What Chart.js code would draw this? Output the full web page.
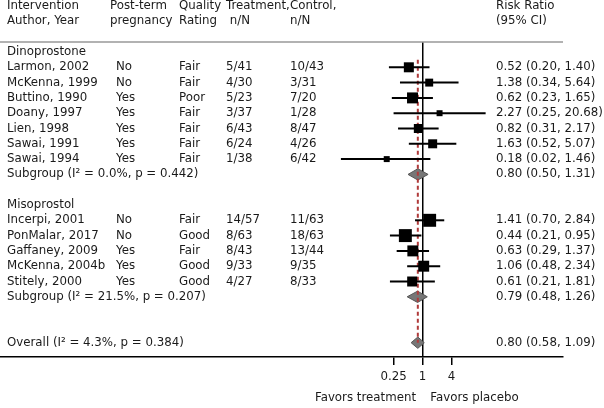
<!DOCTYPE html>
<html lang="en">
<head>
    <meta charset="UTF-8">
    <title>Forest Plot</title>
    <style>
        body {
            margin: 0;
            padding: 0;
            background: #fff;
        }
        #forest-chart {
            display: block;
        }
    </style>
</head>
<body>
    <canvas id="forest-chart" width="604" height="408"></canvas>

    <script src="https://cdn.jsdelivr.net/npm/chart.js"></script>
    <script>
        const groups = ['Dinoprostone', 'Misoprostol'];
        const studyNames = ['Larmon, 2002', 'McKenna, 1999', 'Buttino, 1990', 'Doany, 1997', 'Lien, 1998', 'Sawai, 1991', 'Sawai, 1994',
            'Incerpi, 2001', 'PonMalar, 2017', 'Gaffaney, 2009', 'McKenna, 2004b', 'Stitely, 2000'];
        const studyGroup = [0, 0, 0, 0, 0, 0, 0, 1, 1, 1, 1, 1];
        const postTerm = ['No', 'No', 'Yes', 'Yes', 'Yes', 'Yes', 'Yes', 'No', 'No', 'Yes', 'Yes', 'Yes'];
        const quality = ['Fair', 'Fair', 'Poor', 'Fair', 'Fair', 'Fair', 'Fair', 'Fair', 'Good', 'Fair', 'Good', 'Good'];
        const treatment = ['5/41', '4/30', '5/23', '3/37', '6/43', '6/24', '1/38', '14/57', '8/63', '8/43', '9/33', '4/27'];
        const control = ['10/43', '3/31', '7/20', '1/28', '8/47', '4/26', '6/42', '11/63', '18/63', '13/44', '9/35', '8/33'];
        const riskRatio = [0.52, 1.38, 0.62, 2.27, 0.82, 1.63, 0.18, 1.41, 0.44, 0.63, 1.06, 0.61];
        const ciLow = [0.20, 0.34, 0.23, 0.25, 0.31, 0.52, 0.02, 0.70, 0.21, 0.29, 0.48, 0.21];
        const ciHigh = [1.40, 5.64, 1.65, 20.68, 2.17, 5.07, 1.46, 2.84, 0.95, 1.37, 2.34, 1.81];
        // approximate study weights (%), read from the square sizes
        const weights = [8.4, 5.3, 10.1, 3.0, 6.8, 6.8, 3.0, 14.1, 14.1, 10.1, 10.1, 8.4];

        const subgroupLabels = ['Subgroup (I\u00B2 = 0.0%, p = 0.442)', 'Subgroup (I\u00B2 = 21.5%, p = 0.207)'];
        const subgroupRR = [0.80, 0.79];
        const subgroupLow = [0.50, 0.48];
        const subgroupHigh = [1.31, 1.26];

        const overallLabel = 'Overall (I\u00B2 = 4.3%, p = 0.384)';
        const overallRR = 0.80;
        const overallLow = 0.58;
        const overallHigh = 1.09;

        const tickValues = [0.25, 1, 4];

        const fmt = v => v.toFixed(2);
        const rrText = (e, l, h) => `${fmt(e)} (${fmt(l)}, ${fmt(h)})`;

        // lay out the rows: group title, studies, subgroup, blank ...
        const textRows = [];
        const studyRow = [];
        const subgroupRow = [];
        let row = 0;
        groups.forEach((g, gi) => {
            textRows.push({ row: row, cols: [g] });
            row++;
            studyNames.forEach((name, i) => {
                if (studyGroup[i] !== gi) return;
                studyRow[i] = row;
                textRows.push({ row: row, cols: [name, postTerm[i], quality[i], treatment[i], control[i], rrText(riskRatio[i], ciLow[i], ciHigh[i])] });
                row++;
            });
            subgroupRow[gi] = row;
            textRows.push({ row: row, cols: [subgroupLabels[gi], '', '', '', '', rrText(subgroupRR[gi], subgroupLow[gi], subgroupHigh[gi])] });
            row += 2;
        });
        row++;
        const overallRow = row;
        textRows.push({ row: overallRow, cols: [overallLabel, '', '', '', '', rrText(overallRR, overallLow, overallHigh)] });

        const headerRows = [
            { row: -3, cols: ['Intervention', 'Post-term', 'Quality', 'Treatment,', 'Control,', 'Risk Ratio'] },
            { row: -2, cols: ['Author, Year', 'pregnancy', 'Rating', ' n/N', 'n/N', '(95% CI)'] }
        ];
        const headerX = [7, 110, 179, 226, 290, 496];
        const colX = [7, 116, 179, 226, 290, 496];

        const FONT_FAMILY = '"DejaVu Sans", Verdana, sans-serif';
        const FONT_SIZE = 11.8;
        const TEXT = '#1a1a1a';

        function diamond(e, l, h, r) {
            const d = 0.37;
            return [{ x: l, y: r }, { x: e, y: r - d }, { x: h, y: r }, { x: e, y: r + d }, { x: l, y: r }];
        }

        const datasets = [];

        // confidence interval whiskers
        studyNames.forEach((name, i) => {
            datasets.push({
                type: 'line',
                data: [{ x: ciLow[i], y: studyRow[i] }, { x: ciHigh[i], y: studyRow[i] }],
                borderColor: '#000',
                borderWidth: 2,
                pointRadius: 0,
                fill: false
            });
        });

        // study squares, side proportional to sqrt(weight)
        datasets.push({
            type: 'scatter',
            data: studyNames.map((n, i) => ({ x: riskRatio[i], y: studyRow[i] })),
            pointStyle: 'rect',
            pointRadius: weights.map(w => 3.45 * Math.sqrt(w) / Math.SQRT2),
            backgroundColor: '#000',
            borderWidth: 0
        });

        // pooled estimate reference line
        datasets.push({
            type: 'line',
            data: [{ x: overallRR, y: 0.5 }, { x: overallRR, y: overallRow }],
            borderColor: '#b03a3a',
            borderWidth: 2,
            borderDash: [4, 3],
            pointRadius: 0,
            fill: false
        });

        // subgroup and overall diamonds
        const diamonds = subgroupRR.map((e, gi) => diamond(e, subgroupLow[gi], subgroupHigh[gi], subgroupRow[gi]));
        diamonds.push(diamond(overallRR, overallLow, overallHigh, overallRow));
        diamonds.forEach(pts => {
            datasets.push({
                type: 'line',
                data: pts,
                borderColor: '#555',
                borderWidth: 1,
                backgroundColor: '#777',
                pointRadius: 0,
                fill: 'shape'
            });
        });

        const textPlugin = {
            id: 'forestText',
            afterDraw(chart) {
                const ctx = chart.ctx;
                const y = chart.scales.y;
                const x = chart.scales.x;
                const area = chart.chartArea;
                ctx.save();

                // header rule
                ctx.strokeStyle = '#999';
                ctx.lineWidth = 1.5;
                ctx.beginPath();
                ctx.moveTo(0, area.top);
                ctx.lineTo(area.right, area.top);
                ctx.stroke();

                ctx.font = FONT_SIZE + 'px ' + FONT_FAMILY;
                ctx.fillStyle = TEXT;
                ctx.textBaseline = 'middle';
                ctx.textAlign = 'left';
                headerRows.forEach(h => {
                    h.cols.forEach((t, c) => ctx.fillText(t, headerX[c], y.getPixelForValue(h.row)));
                });
                textRows.forEach(r => {
                    r.cols.forEach((t, c) => {
                        if (t) ctx.fillText(t, colX[c], y.getPixelForValue(r.row));
                    });
                });

                const x1 = x.getPixelForValue(1);
                ctx.textAlign = 'center';
                ctx.fillText('Favors treatment', x1 - 57, 398);
                ctx.fillText('Favors placebo', x1 + 52, 398);
                ctx.restore();
            }
        };

        new Chart(document.getElementById('forest-chart'), {
            type: 'scatter',
            data: { datasets: datasets },
            options: {
                responsive: false,
                animation: false,
                devicePixelRatio: 1,
                layout: { autoPadding: false, padding: { top: 42, right: 41, left: 0, bottom: 0 } },
                plugins: {
                    legend: { display: false },
                    tooltip: { enabled: false }
                },
                scales: {
                    x: {
                        type: 'logarithmic',
                        min: Math.pow(10, -8.80),
                        max: Math.pow(10, 2.927),
                        afterBuildTicks: s => { s.ticks = tickValues.map(v => ({ value: v })); },
                        afterFit: s => { s.height = 51; },
                        ticks: {
                            color: TEXT,
                            padding: 5,
                            maxRotation: 0,
                            autoSkip: false,
                            font: { family: FONT_FAMILY, size: FONT_SIZE },
                            callback: v => String(v)
                        },
                        grid: {
                            color: c => (c.tick && c.tick.value === 1) ? '#000' : 'rgba(0,0,0,0)',
                            lineWidth: 1.5,
                            tickColor: '#000',
                            tickLength: 8
                        },
                        border: { display: true, color: '#000', width: 1.5 }
                    },
                    y: {
                        type: 'linear',
                        reverse: true,
                        min: -0.654,
                        max: 19.935,
                        display: false
                    }
                }
            },
            plugins: [textPlugin]
        });
    </script>
</body>
</html>
